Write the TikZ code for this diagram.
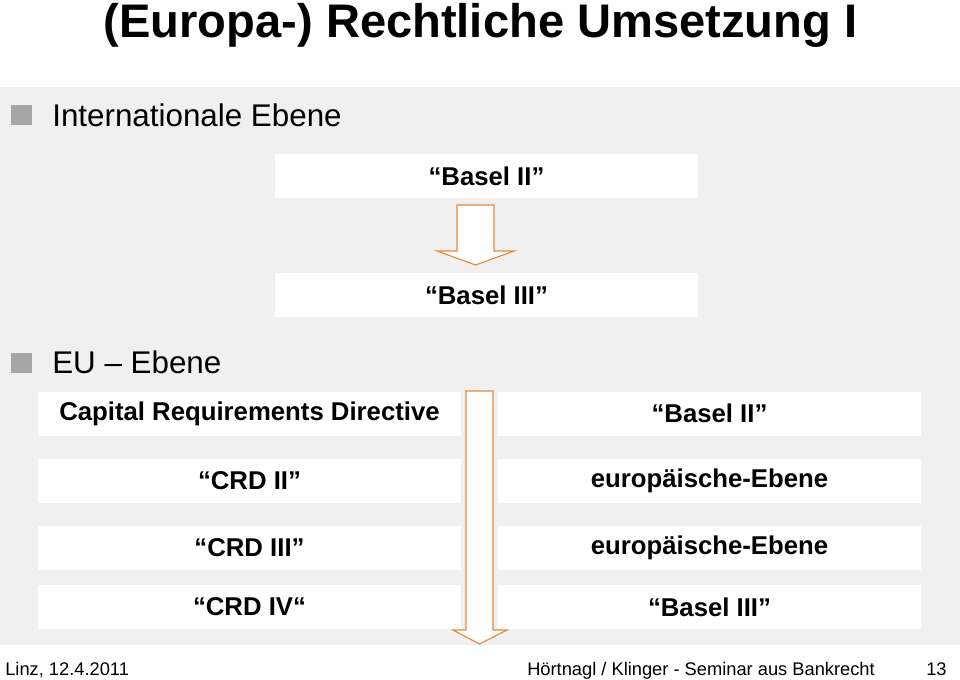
\documentclass[tikz,border=0pt]{standalone}
\usepackage{fontspec}
\setmainfont{Liberation Sans}
\definecolor{panelgrau}{RGB}{240,240,240}
\definecolor{punktgrau}{RGB}{166,166,166}
\definecolor{pfeilorange}{RGB}{228,138,62}

\begin{document}
\begin{tikzpicture}[x=0.025cm, y=-0.025cm,
    box/.style={fill=white, inner sep=0pt, minimum width=10.575cm, minimum height=1.1cm,
        font=\bfseries\fontsize{18.3}{22}\selectfont},
    punkt/.style={fill=punktgrau, inner sep=0pt, minimum size=0.52cm},
    ebene/.style={anchor=base west, inner sep=0pt, font=\fontsize{22.3}{26}\selectfont},
    fuss/.style={anchor=base west, inner sep=0pt, font=\fontsize{13}{16}\selectfont},
    pfeil/.style={draw=pfeilorange, fill=white, line width=0.8pt, line join=miter}]
    \useasboundingbox (0,0) rectangle (960,679);
    \fill[panelgrau] (0,87) rectangle (960,645);
    \node[anchor=base, inner sep=0pt, font=\bfseries\fontsize{33.5}{40}\selectfont] (titel) at (480.5,37) {(Europa-) Rechtliche Umsetzung I};
    \node[punkt] (punkt1) at (21.5,115) {};
    \node[ebene] (intern) at (52,126) {Internationale Ebene};
    \node[box] (basel2) at (486.5,176) {“Basel II”};
    \node[box] (basel3) at (486.5,295) {“Basel III”};
    \node[punkt] (punkt2) at (21.5,363) {};
    \node[ebene] (eu) at (52,373) {EU – Ebene};
    \node[box] (crd) at (249.5,413.5) {Capital Requirements Directive};
    \node[box] (crd2) at (249.5,481) {“CRD II”};
    \node[box] (crd3) at (249.5,548) {“CRD III”};
    \node[box] (crd4) at (249.5,607) {“CRD IV“};
    \node[box] (rbasel2) at (709.5,413.5) {“Basel II”};
    \node[box] (reuropa1) at (709.5,481) {europäische-Ebene};
    \node[box] (reuropa2) at (709.5,548) {europäische-Ebene};
    \node[box] (rbasel3) at (709.5,607) {“Basel III”};
    % Pfeile
    \draw[pfeil] (457,205) -- (494,205) -- (494,251) -- (514,251) -- (475.5,265) -- (437,251) -- (457,251) -- cycle;
    \draw[pfeil] (466,391) -- (493,391) -- (493,630) -- (507,630) -- (479.5,644) -- (453,630) -- (466,630) -- cycle;
    % Fusszeile
    \node[fuss] (ort) at (5,675) {Linz, 12.4.2011};
    \node[fuss] (autoren) at (527,675) {Hörtnagl / Klinger - Seminar aus Bankrecht};
    \node[fuss] (seite) at (926,675) {13};
\end{tikzpicture}
\end{document}
